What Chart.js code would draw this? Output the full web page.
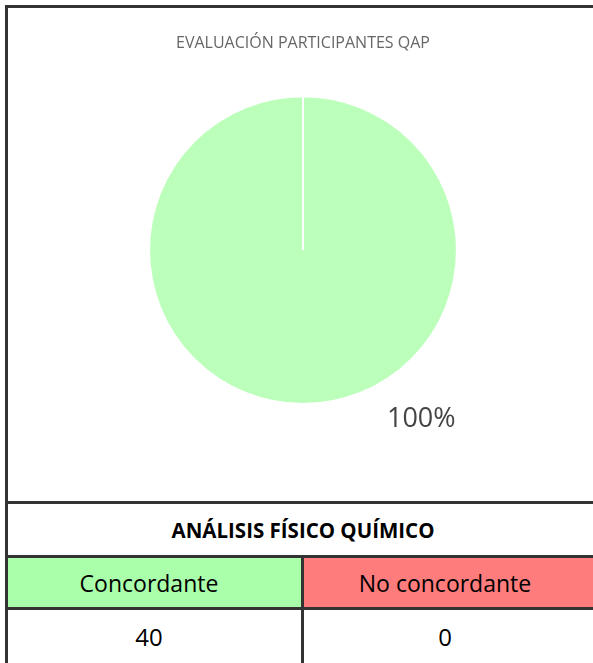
<!DOCTYPE html>
<html>
<head>
<meta charset="utf-8">
<script src="https://cdn.jsdelivr.net/npm/chart.js@4"></script>
<style>
  html, body { margin: 0; padding: 0; background: #fff; overflow: hidden; width: 593px; height: 663px; }
  #box { position: absolute; left: 5px; top: 5px; width: 600px; height: 700px; border: 3px solid #333; border-bottom: none; }
  #chartWrap { position: absolute; left: 0; top: 0; width: 590px; height: 493px; }
  .row { position: absolute; left: 0; width: 600px; border-top: 3px solid #333; font-family: "Open Sans", sans-serif; color: #000; }
  .cell { position: absolute; top: 0; height: 100%; display: flex; align-items: center; justify-content: center; box-sizing: border-box; }
</style>
</head>
<body>
<div id="box">
  <div id="chartWrap"><canvas id="chPie" width="590" height="493"></canvas></div>
  <div class="row" style="top:493px;height:51px;">
    <div class="cell" style="left:0;width:590px;font-weight:bold;font-size:20.5px;" id="tableTitle"></div>
  </div>
  <div class="row" style="top:547px;height:49px;">
    <div class="cell" id="lab0" style="left:0;width:293px;font-size:23px;padding-right:11px;"></div>
    <div class="cell" id="lab1" style="left:293px;width:307px;font-size:23px;border-left:3px solid #333;padding-right:22px;"></div>
  </div>
  <div class="row" style="top:599px;height:60px;">
    <div class="cell" id="val0" style="left:0;width:293px;font-size:24px;align-items:flex-start;padding-top:10px;padding-right:11px;"></div>
    <div class="cell" id="val1" style="left:293px;width:307px;font-size:24px;border-left:3px solid #333;align-items:flex-start;padding-top:10px;padding-right:22px;"></div>
  </div>
</div>
<script>
// chart data
var chartTitle = "EVALUACIÓN PARTICIPANTES QAP";
var tableTitle = "ANÁLISIS FÍSICO QUÍMICO";
var labels = ["Concordante", "No concordante"];
var values = [40, 0];

// colors
var pieColors = ["#bbffbb", "#ff7f7f"];
var cellColors = ["#aaffaa", "#ff7c7c"];

// table under the chart
document.getElementById("tableTitle").textContent = tableTitle;
labels.forEach(function (l, i) {
  var c = document.getElementById("lab" + i);
  c.textContent = l;
  c.style.background = cellColors[i];
  document.getElementById("val" + i).textContent = values[i];
});

// percent label outside the main slice
var pctLabel = {
  id: "pctLabel",
  afterDatasetsDraw: function (chart) {
    var meta = chart.getDatasetMeta(0);
    var total = values.reduce(function (a, b) { return a + b; }, 0);
    var ctx = chart.ctx;
    ctx.save();
    ctx.font = "27px 'Open Sans', sans-serif";
    ctx.fillStyle = "#444";
    ctx.textAlign = "center";
    ctx.textBaseline = "middle";
    meta.data.forEach(function (arc, i) {
      if (!values[i]) return;
      var p = arc.getProps(["x", "y", "outerRadius"], true);
      var ang = 55 * Math.PI / 180;
      var d = p.outerRadius * 1.34;
      ctx.fillText(Math.round(values[i] / total * 100) + "%", p.x + Math.cos(ang) * d, p.y + Math.sin(ang) * d);
    });
    ctx.restore();
  }
};

new Chart(document.getElementById("chPie"), {
  type: "pie",
  data: {
    labels: labels,
    datasets: [{
      data: values,
      backgroundColor: pieColors,
      borderColor: "#fff",
      borderWidth: 2
    }]
  },
  options: {
    responsive: false,
    animation: false,
    layout: { padding: { bottom: 96 } },
    plugins: {
      legend: { display: false },
      tooltip: { enabled: false },
      title: {
        display: true,
        text: chartTitle,
        color: "#666",
        font: { family: "'Open Sans', sans-serif", size: 16, weight: "normal" },
        padding: { top: 26, bottom: 42 }
      }
    }
  },
  plugins: [pctLabel]
});
</script>
</body>
</html>
